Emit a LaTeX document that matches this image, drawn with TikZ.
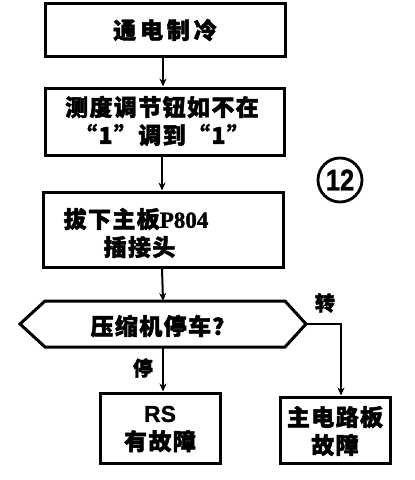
\documentclass[tikz,border=0pt]{standalone}
\usepackage{fontspec}
\newfontfamily\cjk[FakeBold=2]{Noto Sans CJK SC}[LetterSpace=6]
\newfontfamily\cjklat[FakeBold=1.5]{Liberation Serif}
\newfontfamily\numfont[FakeBold=1]{Liberation Sans}
\usetikzlibrary{arrows.meta}
\begin{document}
\begin{tikzpicture}[x=1pt,y=-1pt,
  boxst/.style={draw,line width=3pt,inner sep=0pt},
  txt/.style={font=\cjk\bfseries\fontsize{23}{28}\selectfont,align=center,inner sep=0pt},
  arr/.style={line width=2pt,-{Stealth[length=8pt,width=7pt]}},
  lbl/.style={font=\cjk\bfseries\fontsize{20}{22}\selectfont,inner sep=0pt}]
\useasboundingbox (0,0) rectangle (415,480);
% boxes
\node[boxst,minimum width=240pt,minimum height=53pt] (b1) at (165,30) {};
\node[txt] (t1) at (165,30) {通\,电\,制\,冷};
\node[boxst,minimum width=239pt,minimum height=67pt] (b2) at (164.5,121.5) {};
\node[txt] (t2) at (162,121) {测度调节钮如不在\\“1”调到“1”};
\node[boxst,minimum width=240pt,minimum height=75pt] (b3) at (163,229.5) {};
\node[txt,align=left] (t3) at (136,233) {拔下主板{\cjklat\fontsize{23}{28}\selectfont\bfseries P804}\\\hspace*{40pt}插接头};
% decision
\coordinate (dl) at (20,324);
\coordinate (dr) at (306,324);
\coordinate (dtop) at (163,301);
\coordinate (dbot) at (163,347);
\draw[line width=3pt,line join=miter] (dl) -- (45,301) -- (285,301) -- (dr) -- (285,347) -- (45,347) -- cycle;
\node[txt] (d) at (163,326) {压缩机停车？};
\node[boxst,minimum width=120pt,minimum height=70pt] (b4) at (160,428) {};
\node[txt] (t4) at (160,429) {{\numfont\bfseries RS}\\有故障};
\node[boxst,minimum width=110pt,minimum height=66pt] (b5) at (335,430) {};
\node[txt] (t5) at (335,431) {主电路板\\故障};
% circled 12
\node[draw,circle,line width=2.8pt,minimum size=44pt,inner sep=0pt,font=\numfont\bfseries\fontsize{30}{30}\selectfont] (c12) at (340,180) {\scalebox{0.85}[1]{12}};
% arrows
\draw[arr] (b1.south -| 163,0) -- (b2.north -| 163,0);
\draw[arr] (b2.south -| 162,0) -- (b3.north -| 162,0);
\draw[arr] (b3.south -| 162,0) -- (dtop);
\draw[arr] (dbot) -- (b4.north -| 163,0);
\coordinate (rc) at (341,324);
\draw[arr] (dr) -- (rc) -- (b5.north -| 341,0);
\node[lbl] (l1) at (325,303) {转};
\node[lbl] (l2) at (143,368) {停};
\end{tikzpicture}
\end{document}
